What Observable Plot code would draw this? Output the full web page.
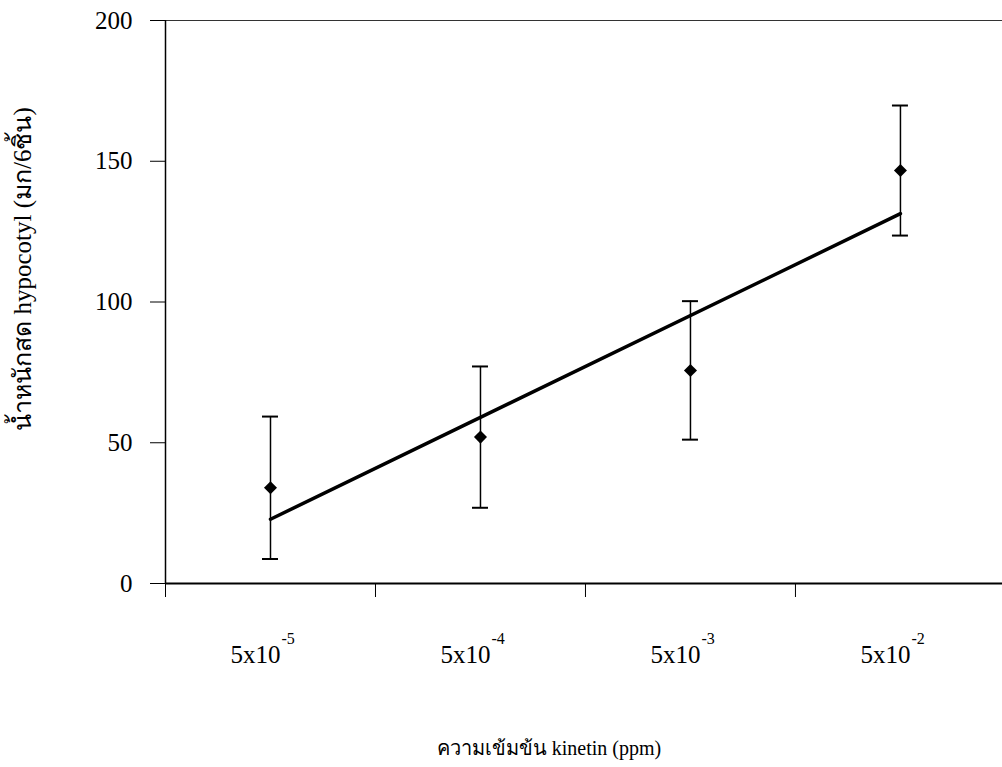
<!DOCTYPE html>
<html>
<head>
<meta charset="utf-8">
<script src="https://cdn.jsdelivr.net/npm/d3@7"></script>
<script src="https://cdn.jsdelivr.net/npm/@observablehq/plot@0.6"></script>
<style>
  html, body { margin: 0; padding: 0; background: #fff; }
  #chart svg { display: block; }
</style>
</head>
<body>
<div id="chart"></div>
<script>
// ---- data ----
const categoryIndex = [1, 2, 3, 4];
const labelBase = ["5x10", "5x10", "5x10", "5x10"];
const labelExponent = ["-5", "-4", "-3", "-2"];
const means = [34, 52, 75.7, 146.7];
const errors = [25.3, 25.1, 24.6, 23.1];
const yTicks = [0, 50, 100, 150, 200];
const xBoundaryTicks = [0.5, 1.5, 2.5, 3.5, 4.5];
const yTitle = "น้ำหนักสด hypocotyl (มก/6ชิ้น)";
const xTitle = "ความเข้มข้น kinetin (ppm)";

const data = categoryIndex.map((i, k) => ({
  i, mean: means[k], lo: means[k] - errors[k], hi: means[k] + errors[k],
  base: labelBase[k], exp: labelExponent[k]
}));

const serif = "'Liberation Serif', 'Times New Roman', serif";
const capHalf = 8 / 210; // half-width of error-bar caps in category units

const chart = Plot.plot({
  width: 1002,
  height: 767,
  marginLeft: 165,
  marginRight: 0,
  marginTop: 20,
  marginBottom: 184,
  style: { fontFamily: serif, background: "#fff", color: "#000" },
  x: { domain: [0.5, 4.486], axis: null },
  y: { domain: [0, 200], axis: null },
  marks: [
    // frame lines
    Plot.ruleY([200], { stroke: "#333", strokeWidth: 1 }),
    Plot.ruleX([0.5], { stroke: "#000", strokeWidth: 1.5 }),
    Plot.ruleY([0], { stroke: "#000", strokeWidth: 2 }),
    // y axis
    Plot.axisY({ ticks: yTicks, tickSize: 15, tickPadding: 18, fontSize: 25, label: null,
      tickFormat: d => String(d), stroke: "#000", strokeWidth: 1, fill: "#000" }),
    // x axis boundary ticks
    Plot.axisX({ ticks: xBoundaryTicks, tickSize: 14, tickFormat: () => "", label: null,
      stroke: "#000", strokeWidth: 1 }),
    // x tick labels (base + superscript exponent)
    Plot.text(data, { x: "i", text: "base", frameAnchor: "bottom", lineAnchor: "middle",
      dy: 71, dx: -15, fontSize: 25, fill: "#000" }),
    Plot.text(data, { x: "i", text: "exp", frameAnchor: "bottom", lineAnchor: "middle",
      textAnchor: "start", dy: 55, dx: 11, fontSize: 16, fill: "#000" }),
    // error bars
    Plot.ruleX(data, { x: "i", y1: "lo", y2: "hi", stroke: "#000", strokeWidth: 1.5 }),
    Plot.ruleY(data, { y: "lo", x1: d => d.i - capHalf, x2: d => d.i + capHalf, stroke: "#000", strokeWidth: 2 }),
    Plot.ruleY(data, { y: "hi", x1: d => d.i - capHalf, x2: d => d.i + capHalf, stroke: "#000", strokeWidth: 2 }),
    // linear trend line
    Plot.linearRegressionY(data, { x: "i", y: "mean", ci: 0, stroke: "#000", strokeWidth: 3.5 }),
    // means (filled diamonds)
    Plot.dot(data, { x: "i", y: "mean", symbol: "square", rotate: 45, r: 5.2, fill: "#000", stroke: "none" }),
    // axis titles
    Plot.text([yTitle], { frameAnchor: "left", textAnchor: "middle", rotate: -90, dx: -143, dy: -33,
      fontSize: 25, fill: "#000" }),
    Plot.text([xTitle], { frameAnchor: "bottom", lineAnchor: "middle", dy: 165, dx: -35,
      fontSize: 20, fill: "#000" })
  ]
});

document.getElementById("chart").appendChild(chart);
</script>
</body>
</html>
